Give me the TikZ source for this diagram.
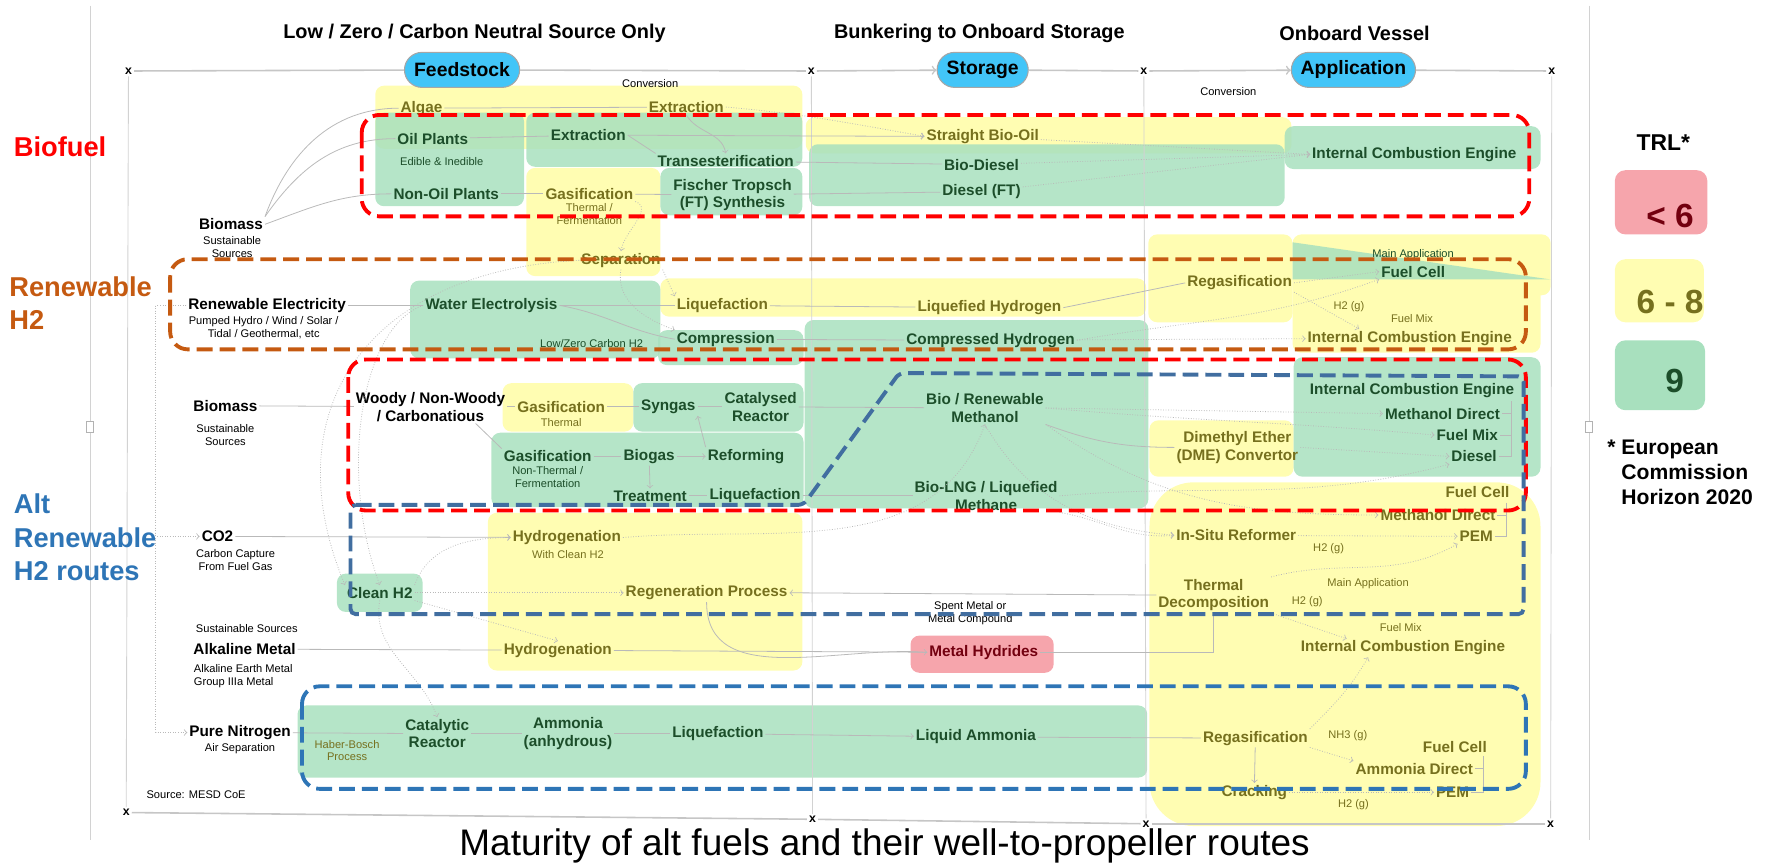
\documentclass[tikz,border=0pt]{standalone}
\usepackage{fontspec}
\setmainfont{Liberation Sans}
\usepackage{tikz}
\usetikzlibrary{positioning, arrows, calc}
\definecolor{trlgreen}{RGB}{168,224,190}
\definecolor{trlyellow}{RGB}{255,253,178}
\definecolor{trlpink}{RGB}{246,165,172}
\definecolor{txtgreen}{RGB}{28,78,42}
\definecolor{txtolive}{RGB}{118,112,30}
\definecolor{txtred}{RGB}{115,0,15}
\definecolor{pillblue}{RGB}{66,197,248}
\definecolor{bfred}{RGB}{255,0,0}
\definecolor{h2orange}{RGB}{197,90,17}
\definecolor{altblue}{RGB}{46,117,182}
\definecolor{mblue}{RGB}{65,110,160}

\begin{document}
\begin{tikzpicture}[x=0.0225cm, y=-0.0225cm,
    gt/.style={font=\bfseries\fontsize{8.7}{10}\selectfont, text=txtgreen, inner sep=1pt, align=center},
    yt/.style={gt, text=txtolive},
    bt/.style={gt, text=black},
    sm/.style={font=\fontsize{6.3}{7.3}\selectfont, inner sep=0.5pt, align=center},
    smg/.style={sm, text=txtgreen},
    smy/.style={sm, text=txtolive},
    hd/.style={font=\bfseries\fontsize{11.3}{12}\selectfont},
    grp/.style={font=\bfseries\fontsize{15.5}{19}\selectfont, anchor=west, align=left, inner sep=0pt},
    pill/.style={draw=gray!70, fill=pillblue, line width=0.6pt, rounded corners=10pt, minimum height=0.7cm, font=\bfseries\fontsize{11}{12}\selectfont},
    xm/.style={font=\bfseries\fontsize{7}{7}\selectfont, inner sep=1pt},
    yel/.style={fill=trlyellow, rounded corners=5pt},
    grn/.style={fill=trlgreen, fill opacity=0.85, rounded corners=5pt},
    ln/.style={draw=gray!55, line width=0.45pt},
    dl/.style={ln, densely dotted, ->},
    al/.style={ln, ->},
    axln/.style={draw=gray!45, line width=0.9pt},
    vline/.style={draw=gray!35, line width=0.5pt},
    bfbox/.style={draw=bfred, line width=2.2pt, dash pattern=on 9pt off 4pt, rounded corners=10pt},
    h2box/.style={bfbox, draw=h2orange},
    mbox/.style={bfbox, draw=mblue, rounded corners=3pt},
    abox/.style={bfbox, draw=altblue},
    lgt/.style={font=\bfseries\fontsize{19}{20}\selectfont, inner sep=0pt}
]
\useasboundingbox (0,0) rectangle (1568,767);

\fill[yel] (333,76) rectangle (712,132);
\fill[yel] (715,104) rectangle (1146,136);
\fill[yel] (467,149) rectangle (586,245);
\fill[yel] (586,247) rectangle (1017,281);
\fill[yel] (1019,208) rectangle (1147,286);
\fill[yel] (1147,208) rectangle (1376,262);
\fill[yel] (1147,246) rectangle (1367,313);
\fill[yel] (446,340) rectangle (562,383);
\fill[yel] (1020,373) rectangle (1148,423);
\fill[yel, rounded corners=25pt] (1020,428) rectangle (1367,733);
\fill[yel] (433,455) rectangle (712,595);

\fill[grn] (333,100) rectangle (465,183);
\fill[grn] (467,100) rectangle (712,148);
\fill[grn] (586,149) rectangle (712,191);
\fill[grn] (718,128) rectangle (1140,183);
\fill[grn] (1140,112) rectangle (1367,150);
\fill[grn] (364,249) rectangle (586,318);
\fill[grn] (584,293) rectangle (713,324);
\fill[grn] (714,284) rectangle (1019,451);
\fill[trlgreen, fill opacity=0.85] (1147,215) -- (1147,248) -- (1376,248) -- cycle;
\fill[grn] (562,340) rectangle (713,383);
\fill[grn] (436,384) rectangle (713,450);
\fill[grn] (1148,317) rectangle (1367,423);
\fill[grn] (299,509) rectangle (375,543);
\fill[grn] (264,626) rectangle (1018,690);
\fill[trlpink, rounded corners=5pt] (808,564) rectangle (935,597);

\fill[trlpink, rounded corners=6pt] (1433,151) rectangle (1515,208);
\fill[trlyellow, rounded corners=6pt] (1433,230) rectangle (1512,286);
\fill[trlgreen, rounded corners=6pt] (1433,302) rectangle (1513,364);

\node[xm] (xa) at (114,63) {x};
\node[xm] (xb) at (720,63) {x};
\node[xm] (xc) at (1015,63) {x};
\node[xm] (xd) at (1377,63) {x};
\node[xm] (ya) at (112,721) {x};
\node[xm] (yb) at (721,727) {x};
\node[xm] (yc) at (1017,731) {x};
\node[xm] (yd) at (1376,731) {x};
\draw[vline] (xa) -- (ya);
\draw[vline] (xb) -- (yb);
\draw[vline] (xc) -- (yc);
\draw[vline] (xd) -- (yd);
\draw[axln] (ya) -- (yb);
\draw[axln] (yb) -- (yc);
\draw[axln] (yc) -- (yd);
\draw[vline] (80,5) -- (80,745);
\draw[vline] (1410,5) -- (1410,745);
\draw[gray!60, fill=white] (77,374) rectangle (83,384);
\draw[gray!60, fill=white] (1407,374) rectangle (1413,384);

\node[pill, minimum width=2.3cm] (feed) at (410,62) {Feedstock};
\node[pill, minimum width=1.82cm] (stor) at (872,62) {Storage};
\node[pill, minimum width=2.48cm] (appl) at (1201,62) {Application};
\draw[axln] (xa) -- (feed);
\draw[axln] (feed) -- (xb);
\draw[axln, ->] (xb) -- (stor);
\draw[axln] (stor) -- (xc);
\draw[axln, ->] (xc) -- (appl);
\draw[axln] (appl) -- (xd);

\node[hd] (tfeed) at (421,30) {Low / Zero / Carbon Neutral Source Only};
\node[hd] (tstor) at (869,30) {Bunkering to Onboard Storage};
\node[hd] (tappl) at (1202,30) {Onboard Vessel};
\node[sm] (cva) at (577,74) {Conversion};
\node[sm] (cvb) at (1090,81) {Conversion};

\node[grp, text=bfred] (lbio) at (12,130) {Biofuel};
\node[grp, text=h2orange] (lren) at (8,269) {Renewable\\H2};
\node[grp, text=altblue] (lalt) at (12,477) {Alt\\Renewable\\H2 routes};

\node[hd, font=\bfseries\fontsize{13}{14}\selectfont] (trl) at (1476,127) {TRL*};
\node[lgt, text=txtred] (tlow) at (1482,192) {< 6};
\node[lgt, text=txtolive] (tmid) at (1482,268) {6 - 8};
\node[lgt, text=txtgreen] (thigh) at (1486,338) {9};
\node[font=\bfseries\fontsize{12}{14.4}\selectfont, anchor=west, align=left, inner sep=0pt] (ec) at (1426,419) {* European\\\hphantom{* }Commission\\\hphantom{* }Horizon 2020};

\node[yt] (algae) at (374,96) {Algae};
\node[yt] (extA) at (609,95) {Extraction};
\node[gt] (oil) at (384,123) {Oil Plants};
\node[smg] (edib) at (392,143) {Edible \& Inedible};
\node[gt] (nonoil) at (396,172) {Non-Oil Plants};
\node[gt] (extB) at (522,120) {Extraction};
\node[gt] (trans) at (644,143) {Transesterification};
\node[yt] (gasA) at (523,172) {Gasification};
\node[smy] (gasAs) at (523,190) {Thermal /\\Fermentation};
\node[gt] (ft) at (650,173) {Fischer Tropsch\\(FT) Synthesis};
\node[yt] (sbo) at (872,121) {Straight Bio-Oil};
\node[gt] (bdsl) at (871,146) {Bio-Diesel};
\node[gt] (dft) at (871,170) {Diesel (FT)};
\node[gt] (iceA) at (1255,137) {Internal Combustion Engine};
\node[bt] (bmA) at (205,199) {Biomass};
\node[sm] (bmAs) at (206,219) {Sustainable\\Sources};

\node[yt] (sep) at (551,231) {Separation};
\node[bt] (rel) at (237,271) {Renewable Electricity};
\node[sm] (rels) at (234,291) {Pumped Hydro / Wind / Solar /\\Tidal / Geothermal, etc};
\node[gt] (wel) at (436,271) {Water Electrolysis};
\node[smg] (lowc) at (525,305) {Low/Zero Carbon H2};
\node[yt] (liqA) at (641,271) {Liquefaction};
\node[gt] (comp) at (644,301) {Compression};
\node[yt] (lh2) at (878,273) {Liquefied Hydrogen};
\node[gt] (ch2) at (879,302) {Compressed Hydrogen};
\node[yt] (regA) at (1100,251) {Regasification};
\node[smg] (mainA) at (1254,226) {Main Application};
\node[gt] (fcA) at (1254,241) {Fuel Cell};
\node[smy] (h2gA) at (1197,272) {H2 (g)};
\node[smy] (fmixA) at (1253,283) {Fuel Mix};
\node[yt] (iceB) at (1251,300) {Internal Combustion Engine};

\node[bt] (bmB) at (200,360) {Biomass};
\node[sm] (bmBs) at (200,386) {Sustainable\\Sources};
\node[bt] (woody) at (382,361) {Woody / Non-Woody\\/ Carbonatious};
\node[yt] (gasB) at (498,361) {Gasification};
\node[smy] (gasBs) at (498,375) {Thermal};
\node[gt] (syn) at (593,361) {Syngas};
\node[gt] (cat) at (675,361) {Catalysed\\Reactor};
\node[gt] (gasC) at (486,405) {Gasification};
\node[smg] (gasCs) at (486,423) {Non-Thermal /\\Fermentation};
\node[gt] (biogas) at (576,405) {Biogas};
\node[gt] (ref) at (662,405) {Reforming};
\node[gt] (treat) at (577,440) {Treatment};
\node[gt] (liqB) at (670,440) {Liquefaction};
\node[gt] (meoh) at (874,362) {Bio / Renewable\\Methanol};
\node[gt] (lng) at (875,440) {Bio-LNG / Liquefied\\Methane};
\node[yt] (dme) at (1098,397) {Dimethyl Ether\\(DME) Convertor};
\node[gt] (iceC) at (1253,347) {Internal Combustion Engine};
\node[gt] (mdA) at (1280,367) {Methanol Direct};
\node[gt] (fmA) at (1302,386) {Fuel Mix};
\node[gt] (dsl) at (1308,405) {Diesel};
\node[yt] (fcB) at (1311,437) {Fuel Cell};
\node[yt] (mdB) at (1276,457) {Methanol Direct};
\node[yt] (pemA) at (1310,476) {PEM};
\node[yt] (isr) at (1097,475) {In-Situ Reformer};
\node[smy] (h2gB) at (1179,487) {H2 (g)};

\node[bt] (co2) at (193,476) {CO2};
\node[sm] (co2s) at (209,497) {Carbon Capture\\From Fuel Gas};
\node[yt] (hydA) at (503,477) {Hydrogenation};
\node[smy] (hydAs) at (504,492) {With Clean H2};
\node[gt] (clean) at (337,526) {Clean H2};
\node[yt] (regen) at (627,526) {Regeneration Process};
\node[yt] (thd) at (1077,528) {Thermal\\Decomposition};
\node[smy] (mainB) at (1214,518) {Main Application};
\node[smy] (h2gC) at (1160,534) {H2 (g)};
\node[sm] (spent) at (861,544) {Spent Metal or\\Metal Compound};
\node[smy] (fmixB) at (1243,557) {Fuel Mix};
\node[yt] (iceD) at (1245,575) {Internal Combustion Engine};
\node[sm] (sust) at (219,558) {Sustainable Sources};
\node[bt] (alk) at (217,576) {Alkaline Metal};
\node[sm, anchor=west, align=left] (alks) at (171,600) {Alkaline Earth Metal\\Group IIIa Metal};
\node[yt] (hydB) at (495,577) {Hydrogenation};
\node[gt, text=txtred] (mh) at (873,579) {Metal Hydrides};

\node[bt] (nit) at (213,650) {Pure Nitrogen};
\node[sm] (nits) at (213,664) {Air Separation};
\node[smy] (hb) at (308,666) {Haber-Bosch\\Process};
\node[gt] (catR) at (388,651) {Catalytic\\Reactor};
\node[gt] (nh3) at (504,651) {Ammonia\\(anhydrous)};
\node[gt] (liqC) at (637,651) {Liquefaction};
\node[gt] (lnh3) at (866,654) {Liquid Ammonia};
\node[yt] (regB) at (1114,655) {Regasification};
\node[smy] (nh3g) at (1196,653) {NH3 (g)};
\node[yt] (fcC) at (1291,663) {Fuel Cell};
\node[yt] (amd) at (1255,682) {Ammonia Direct};
\node[yt] (crack) at (1113,703) {Cracking};
\node[yt] (pemB) at (1289,703) {PEM};
\node[smy] (h2gD) at (1201,714) {H2 (g)};
\node[sm] (src) at (174,705) {Source: MESD CoE};
\node[font=\fontsize{21}{22}\selectfont, inner sep=0pt] (cap) at (785,751) {Maturity of alt fuels and their well-to-propeller routes};

\coordinate (brA) at (1341,356);
\coordinate (brB) at (1337,446);
\coordinate (brC) at (1316,671);

\draw[ln] (bmA.north east) to[out=70,in=180] (algae.west);
\draw[ln] (bmA.north east) to[out=55,in=180] (oil.west);
\draw[ln] (bmA.east) to[out=20,in=180] (nonoil.west);
\draw[ln] (algae) -- (extA);
\draw[dl] (extA.east) to[out=-5,in=170] (sbo.west);
\draw[al] (extA.south) to[out=-60,in=100] (trans.north);
\draw[ln] (oil) -- (extB);
\draw[ln] (extB.east) -- (trans.north west);
\draw[al] (extB.east) -- (sbo.west);
\draw[ln] (trans) -- (bdsl);
\draw[ln] (nonoil) -- (gasA);
\draw[ln] (gasA) -- (ft);
\draw[ln] (ft) -- (dft);
\draw[dl] (sbo) -- (iceA.west);
\draw[dl] (bdsl) -- (iceA.west);
\draw[dl] (dft) -- (iceA.west);
\draw[dl] (gasA.south east) to[out=-20,in=80] (sep.north);

\draw[ln] (rel) -- (wel);
\draw[ln] (wel) -- (liqA);
\draw[ln] (wel.east) to[out=-10,in=170] (comp.west);
\draw[dl] (sep.south east) -- (liqA.north west);
\draw[dl] (sep.south) to[out=-100,in=160] (comp.north west);
\draw[ln] (liqA) -- (lh2);
\draw[ln] (comp) -- (ch2);
\draw[ln] (lh2.east) -- (regA.west);
\draw[dl] (regA.east) -- (fcA.west);
\draw[dl] (regA.south east) -- ($(iceB.north)+(-45,0)$);
\draw[dl] (ch2.east) to[out=10,in=200] (fcA.south west);
\draw[dl] (ch2) -- (iceB);
\draw[dl] (rel.west) -- ++(-27,0) |- (co2.west);
\draw[dl] (rel.west) -- ++(-27,0) |- (nit.west);
\draw[dl] (sep.west) .. controls (330,240) and (240,360) .. (clean.north west);
\draw[dl] (wel.west) .. controls (320,290) and (300,420) .. (clean.north);

\draw[ln] (bmB) -- (woody);
\draw[ln] (woody) -- (gasB);
\draw[ln] ($(woody.south east)+(-28,0)$) -- (gasC.north west);
\draw[ln] (gasB) -- (syn);
\draw[ln] (syn) -- (cat);
\draw[ln] (cat) -- (meoh);
\draw[ln] (gasC) -- (biogas);
\draw[al] (biogas) -- (ref);
\draw[al] (biogas) -- (treat);
\draw[al] (ref.north west) -- (syn.south east);
\draw[ln] (treat) -- (liqB);
\draw[ln] (liqB) -- (lng);
\draw[dl] (meoh.east) -- (mdA.west);
\draw[dl] (meoh.east) to[out=-5,in=175] (fmA.west);
\draw[ln] (meoh.south east) to[out=-20,in=180] (dme.west);
\draw[dl] (meoh.south) to[out=-60,in=175] (isr.west);
\draw[dl] (meoh.south east) to[out=-35,in=180] (mdB.west);
\draw[dl] (dme.east) -- (dsl.west);
\draw[dl] (lng.east) to[out=5,in=195] (dsl.south west);
\draw[dl] (lng.south east) to[out=-10,in=185] (isr.west);
\draw[dl] (isr) -- (pemA);
\draw[dl] (thd.north east) to[out=15,in=210] (pemA.south west);
\draw[dl] (thd.south east) -- ($(iceD.north)+(-50,0)$);
\draw[ln] (brA) |- (dsl.east);
\draw[ln] (mdA.east) -- (mdA.east -| brA);
\draw[ln] (fmA.east) -- (fmA.east -| brA);
\draw[ln] (brB) |- (pemA.east);
\draw[ln] (mdB.east) -- (mdB.east -| brB);

\draw[al] (co2) -- (hydA);
\draw[dl] (hydA.east) to[out=5,in=-110] (meoh.south);
\draw[dl] (clean.north east) to[out=70,in=180] (hydA.west);
\draw[dl] (clean) -- (regen);
\draw[dl] (clean.south east) -- (hydB.north);
\draw[dl] (clean.south) to[out=-100,in=110] (catR.north);
\draw[al] (thd.west) -- (regen.east);
\draw[ln] (mh.east) -| (thd.south);
\draw[ln] (regen.south) to[out=-90,in=175] (mh.west);
\draw[ln] (alk) -- (hydB);
\draw[al] (hydB) -- (mh);

\draw[ln] (nit) -- (catR);
\draw[ln] (catR) -- (nh3);
\draw[ln] (nh3) -- (liqC);
\draw[al] (liqC) -- (lnh3);
\draw[ln] (lnh3) -- (regB);
\draw[dl] (regB.north east) to[out=45,in=-120] ($(iceD.south)+(-31,0)$);
\draw[dl] (regB.south east) -- (amd.north west);
\draw[al] (regB) -- (crack);
\draw[dl] (crack) -- (pemB);
\draw[ln] (brC) |- (pemB.east);
\draw[ln] (amd.east) -- (amd.east -| brC);

\draw[bfbox] (321,102) rectangle (1357,192);
\draw[h2box] (151,230) rectangle (1354,310);
\draw[bfbox] (309,319) rectangle (1354,453);
\draw[mbox] (311,448) -- (713,448) -- (798,331) -- (1352,334) -- (1352,545) -- (311,545) -- cycle;
\draw[abox] (268,609) rectangle (1354,700);
\end{tikzpicture}
\end{document}
